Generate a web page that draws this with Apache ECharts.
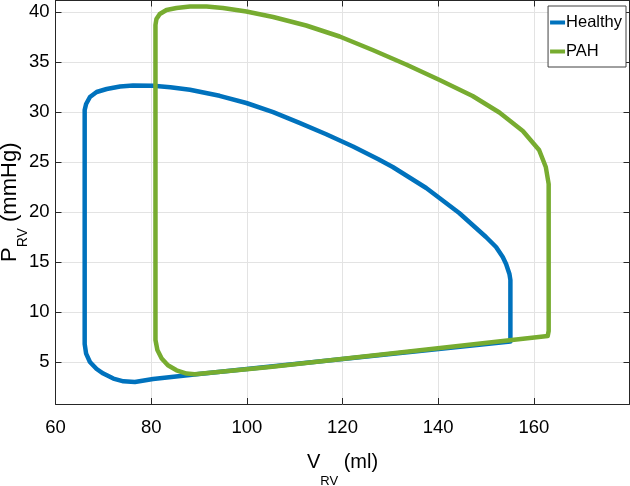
<!DOCTYPE html>
<html><head><meta charset="utf-8">
<script src="https://cdn.jsdelivr.net/npm/echarts@6/dist/echarts.min.js"></script>
<style>html,body{margin:0;padding:0;background:#fff}#c{width:630px;height:486px}</style>
</head><body><div id="c"></div>
<script>
// ---- data ----
const xTicks = [60, 80, 100, 120, 140, 160];
const yTicks = [5, 10, 15, 20, 25, 30, 35, 40];
const seriesNames = ['Healthy', 'PAH'];
// Healthy loop
const healthyV = [155.1, 90.0, 80.4, 76.6, 74.2, 72.1, 70.0, 68.6, 67.2, 66.4, 66.1, 66.1, 66.4, 67.2, 68.6, 70.7, 73.5, 76.2, 80.4, 84.0, 88.1, 94.3, 99.9, 105.5, 111.0, 116.6, 122.2, 127.4, 130.5, 137.5, 144.4, 150.0, 152.1, 153.5, 154.2, 154.9, 155.1, 155.1];
const healthyP = [7.05, 3.8, 3.3, 3.0, 3.07, 3.34, 3.84, 4.3, 5.0, 5.84, 6.8, 30.2, 30.8, 31.5, 32.0, 32.3, 32.55, 32.65, 32.62, 32.48, 32.22, 31.62, 30.9, 29.98, 28.92, 27.78, 26.55, 25.3, 24.5, 22.4, 19.9, 17.5, 16.5, 15.5, 14.8, 13.8, 13.2, 7.05];
// PAH loop
const pahV = [104.8, 89.1, 87.4, 85.3, 83.5, 82.2, 81.3, 80.9, 80.9, 81.1, 81.8, 83.2, 85.3, 88.1, 91.6, 95.0, 99.9, 105.5, 112.4, 119.4, 126.3, 133.3, 140.3, 147.2, 152.8, 157.7, 161.1, 162.5, 163.1, 163.1, 162.9, 162.5, 104.8];
const pahP = [4.5, 3.77, 3.84, 4.17, 4.67, 5.35, 6.2, 7.2, 38.7, 39.3, 39.8, 40.2, 40.4, 40.55, 40.55, 40.4, 40.05, 39.5, 38.65, 37.55, 36.2, 34.75, 33.2, 31.6, 29.95, 28.1, 26.2, 24.5, 22.8, 8.1, 7.6, 7.45, 4.5];
const seriesColors = ['#0072BD', '#77AC30'];

// ---- chart ----
const FONT = "'Liberation Sans',Arial,sans-serif";
const AX = '#262626';
const GRIDC = '#e3e3e3';
const zip = (a, b) => a.map((v, i) => [v, b[i]]);

const chart = echarts.init(document.getElementById('c'), null, {renderer: 'canvas'});

function boxAxis(pos, min, max, ticks, main) {
  return {
    type: 'value', position: pos, min: min, max: max, gridIndex: 0,
    axisLine: {show: true, onZero: false, lineStyle: {color: AX, width: 1}},
    axisTick: {show: true, inside: true, length: 6, customValues: ticks, lineStyle: {color: AX}},
    axisLabel: {show: !!main, customValues: ticks, fontFamily: FONT, fontSize: 18.5, color: '#000'},
    splitLine: {show: !!main, lineStyle: {color: GRIDC, width: 1}}
  };
}

const xMain = boxAxis('bottom', 60, 180, xTicks, true);
xMain.axisLabel.margin = 14;
xMain.name = '{m|V}{s|RV}{m| (ml)}';
xMain.nameLocation = 'middle';
xMain.nameGap = 48;
xMain.nameMoveOverlap = false;
xMain.nameTextStyle = {
  rich: {
    m: {fontFamily: FONT, fontSize: 20, lineHeight: 22, color: '#000', verticalAlign: 'top'},
    s: {fontFamily: FONT, fontSize: 13, lineHeight: 13, color: '#000', verticalAlign: 'top', padding: [23.4, 0, 0, 0]}
  }
};
const yMain = boxAxis('left', 0.8, 41.15, yTicks, true);
yMain.axisLabel.margin = 6;
yMain.name = '{m|P}{s|RV}{m| (mmHg)}';
yMain.nameLocation = 'middle';
yMain.nameGap = 34.5;
yMain.nameMoveOverlap = false;
yMain.nameTextStyle = {
  rich: {
    m: {fontFamily: FONT, fontSize: 22, lineHeight: 22, color: '#000', verticalAlign: 'top'},
    s: {fontFamily: FONT, fontSize: 14, lineHeight: 14, color: '#000', verticalAlign: 'top', padding: [17.5, 0, 0, 0]}
  }
};

const names = seriesNames;
chart.setOption({
  animation: false,
  backgroundColor: '#fff',
  grid: {left: 55.5, right: 0.5, top: 0.5, bottom: 82, containLabel: false, outerBoundsMode: 'none'},
  xAxis: [xMain, boxAxis('top', 60, 180, xTicks, false)],
  yAxis: [yMain, boxAxis('right', 0.8, 41.15, yTicks, false)],
  legend: {
    orient: 'vertical', right: 4, top: 6,
    data: names,
    icon: 'rect', itemWidth: 15, itemHeight: 4, itemGap: 12,
    padding: [8, 4, 7, 2],
    borderColor: '#404040', borderWidth: 1, backgroundColor: '#fff',
    textStyle: {fontFamily: FONT, fontSize: 16.5, color: '#000', padding: [0, 0, 0, -4]}
  },
  series: [
    {name: names[0], type: 'line', xAxisIndex: 0, yAxisIndex: 0, data: zip(healthyV, healthyP),
     showSymbol: false, symbol: 'none', smooth: false, color: seriesColors[0],
     lineStyle: {width: 4.5, color: seriesColors[0], cap: 'round', join: 'round'}},
    {name: names[1], type: 'line', xAxisIndex: 0, yAxisIndex: 0, data: zip(pahV, pahP),
     showSymbol: false, symbol: 'none', smooth: false, color: seriesColors[1],
     lineStyle: {width: 4.5, color: seriesColors[1], cap: 'round', join: 'round'}}
  ]
});
</script>
</body></html>
